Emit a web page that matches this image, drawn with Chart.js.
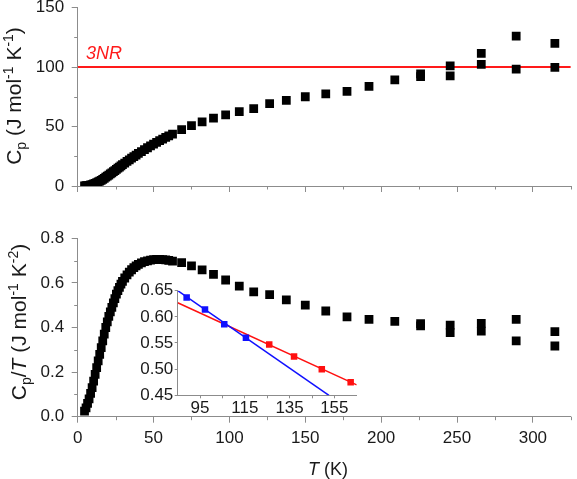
<!DOCTYPE html>
<html>
<head>
<meta charset="utf-8">
<script src="https://cdn.jsdelivr.net/npm/chart.js@4.4.1/dist/chart.umd.min.js"></script>
<style>
  body { margin: 0; background: #fff; }
  #wrap { position: relative; width: 577px; height: 479px; overflow: hidden; }
  .box { position: absolute; }
</style>
</head>
<body>
<div id="wrap">
  <div class="box" style="left:0;top:-20px;width:577px;height:224px"><canvas id="cpChart" width="577" height="224"></canvas></div>
  <div class="box" style="left:0;top:200px;width:577px;height:279px"><canvas id="cptChart" width="577" height="279"></canvas></div>
  <div class="box" style="left:100px;top:260px;width:280px;height:170px"><canvas id="insetChart" width="280" height="170"></canvas></div>
</div>
<script>
// temperatures (K)
const temps = [4.5, 5.5, 6.5, 7.5, 8.5, 9.5, 10.5, 11.5, 12.5, 13.5, 14.5, 15.5, 16.5, 17.5, 18.5, 19.5, 20.5, 21.5, 22.5, 23.5,
  24.5, 25.5, 26.5, 27.5, 28.5, 29.5, 31, 32.5, 34, 35.5, 37, 38.5, 40, 42, 44, 46, 48, 50, 52, 54, 56, 58, 60,
  62.5, 68.5, 75, 82, 89.5, 97.5, 106.5, 116, 126.5, 137.5, 150, 163.5, 177.5, 192, 209,
  226, 226, 245.5, 245.5, 266, 266, 289, 289, 314.5, 314.5];
// Cp (J mol-1 K-1)
const cp = [0.11, 0.22, 0.39, 0.60, 0.89, 1.24, 1.68, 2.19, 2.75, 3.38, 4.06, 4.81, 5.61, 6.48, 7.40, 8.29, 9.23, 10.11, 11.03, 11.99,
  12.99, 14.03, 14.97, 15.95, 16.96, 17.91, 19.28, 20.67, 22.03, 23.39, 24.72, 26.03, 27.32, 28.98, 30.58, 32.15, 33.70, 35.20, 36.66, 38.07, 39.42, 40.77, 42.06,
  43.63, 47.33, 50.70, 53.96, 57.10, 59.77, 62.41, 64.96, 69.20, 72.05, 75.00, 77.50, 79.52, 83.71, 89.24,
  94.24, 91.98, 100.90, 92.55, 111.45, 102.14, 126.0, 98.26, 119.82, 99.70];
// Cp/T (J mol-1 K-2)
const cpOverT = [0.025, 0.04, 0.06, 0.08, 0.105, 0.13, 0.16, 0.19, 0.22, 0.25, 0.28, 0.31, 0.34, 0.37, 0.40, 0.425, 0.45, 0.47, 0.49, 0.51,
  0.53, 0.55, 0.565, 0.58, 0.595, 0.607, 0.622, 0.636, 0.648, 0.659, 0.668, 0.676, 0.683, 0.690, 0.695, 0.699, 0.702, 0.704, 0.705, 0.705, 0.704, 0.703, 0.701,
  0.698, 0.691, 0.676, 0.658, 0.638, 0.613, 0.586, 0.560, 0.547, 0.524, 0.500, 0.474, 0.448, 0.436, 0.427,
  0.417, 0.407, 0.411, 0.377, 0.419, 0.384, 0.436, 0.340, 0.381, 0.317];
const threeNR = 100;

// inset
const insetBlueT = [89, 97.2, 105.8, 115.5];
const insetBlueY = [0.637, 0.614, 0.586, 0.560];
const insetRedT = [125.9, 137, 149.4, 162.3];
const insetRedY = [0.547, 0.524, 0.500, 0.475];
const blueFitT = [85, 152.6];
const blueFitY = [0.65, 0.45];
const redFitT = [85, 165];
const redFitY = [0.627, 0.470];

// ticks
const tTicks = [0, 50, 100, 150, 200, 250, 300];
const tMinor = [25, 75, 125, 175, 225, 275, 325];
const cpTicks = [0, 50, 100, 150];
const cpMinor = [25, 75, 125];
const cptTicks = [0, 0.2, 0.4, 0.6, 0.8];
const cptMinor = [0.1, 0.3, 0.5, 0.7];
const insetXTicks = [95, 115, 135, 155];
const insetXMinor = [105, 125, 145];
const insetYTicks = [0.45, 0.5, 0.55, 0.6, 0.65];

const FONT = "'Liberation Sans', Arial, sans-serif";
const AXIS = '#8c8c8c';
const TEXT = '#1a1a1a';

const pts = (xs, ys) => xs.map((x, i) => ({ x: x, y: ys[i] }));

function axis(min, max, ticks, fmt, o) {
  return {
    type: 'linear', min: min, max: max,
    afterBuildTicks: s => { s.ticks = ticks.map(v => ({ value: v })); },
    border: { color: AXIS, width: 1 },
    grid: { drawOnChartArea: false, color: AXIS, tickLength: o.tl, lineWidth: 1 },
    ticks: { display: o.labels !== false, font: { family: FONT, size: 17 }, color: TEXT,
      padding: o.pad, callback: fmt, maxRotation: 0, autoSkip: false },
    afterFit: s => { if (o.w != null) s.width = o.w; if (o.h != null) s.height = o.h; }
  };
}

// minor tick marks and rich text labels
const extras = {
  id: 'extras',
  afterDraw(chart, args, opts) {
    const ctx = chart.ctx, xs = chart.scales.x, ys = chart.scales.y;
    ctx.save();
    ctx.strokeStyle = AXIS;
    ctx.lineWidth = 1;
    ctx.beginPath();
    (opts.xMinor || []).forEach(v => {
      const px = Math.round(xs.getPixelForValue(v)) + 0.5;
      ctx.moveTo(px, xs.top); ctx.lineTo(px, xs.top + opts.minorLen);
    });
    (opts.yMinor || []).forEach(v => {
      const py = Math.round(ys.getPixelForValue(v)) + 0.5;
      ctx.moveTo(ys.right, py); ctx.lineTo(ys.right - opts.minorLen, py);
    });
    ctx.stroke();
    ctx.restore();
    (opts.texts || []).forEach(t => {
      const x = t.tx != null ? xs.getPixelForValue(t.tx) : t.x;
      const y = t.ty != null ? ys.getPixelForValue(t.ty) : t.y;
      richText(ctx, t.parts, x, y, t.angle || 0, t.align || 'left', t.color || TEXT);
    });
  }
};

function richText(ctx, parts, x, y, angle, align, color) {
  ctx.save();
  ctx.translate(x, y);
  ctx.rotate(angle);
  ctx.fillStyle = color;
  ctx.textBaseline = 'alphabetic';
  ctx.textAlign = 'left';
  const fnt = p => (p.italic ? 'italic ' : '') + p.size + 'px ' + FONT;
  let total = 0;
  parts.forEach(p => { ctx.font = fnt(p); p.w = ctx.measureText(p.t).width; total += p.w; });
  let cx = align === 'center' ? -total / 2 : 0;
  parts.forEach(p => { ctx.font = fnt(p); ctx.fillText(p.t, cx, p.dy || 0); cx += p.w; });
  ctx.restore();
}

const common = {
  responsive: false,
  animation: false,
  plugins: { legend: { display: false }, tooltip: { enabled: false } }
};

// top panel: Cp
new Chart(document.getElementById('cpChart'), {
  type: 'scatter',
  data: {
    datasets: [
      { data: pts(temps, cp), pointStyle: 'rect', pointRadius: 6.2, backgroundColor: '#000', borderWidth: 0, order: 1 },
      { data: [{ x: 0, y: threeNR }, { x: 325, y: threeNR }], showLine: true, borderColor: '#ff1a1a', borderWidth: 2,
        pointRadius: 0, order: 2 }
    ]
  },
  options: Object.assign({}, common, {
    layout: { padding: { top: 27.5, right: 1, bottom: 8, left: 0 } },
    scales: {
      x: axis(0, 325, tTicks, v => v, { tl: 6, pad: 5, h: 10, labels: false }),
      y: axis(0, 150, cpTicks, v => v, { tl: 6, pad: 7.5, w: 77.7 })
    },
    plugins: Object.assign({}, common.plugins, {
      extras: {
        xMinor: tMinor, yMinor: cpMinor, minorLen: 3.5,
        texts: [
          { x: 20.5, y: 116, angle: -Math.PI / 2, align: 'center', parts: [
            { t: 'C', size: 21 }, { t: 'p', size: 14, dy: 5 }, { t: ' (J mol', size: 21 }, { t: '-1', size: 14, dy: -8 },
            { t: ' K', size: 21 }, { t: '-1', size: 14, dy: -8 }, { t: ')', size: 21 }] },
          { tx: 5.5, ty: 106.5, color: '#ff1a1a', parts: [{ t: '3NR', size: 18, italic: true }] }
        ]
      }
    })
  }),
  plugins: [extras]
});

// bottom panel: Cp/T
new Chart(document.getElementById('cptChart'), {
  type: 'scatter',
  data: {
    datasets: [
      { data: pts(temps, cpOverT), pointStyle: 'rect', pointRadius: 6.2, backgroundColor: '#000', borderWidth: 0 }
    ]
  },
  options: Object.assign({}, common, {
    layout: { padding: { top: 38.3, right: 1, bottom: 0, left: 0 } },
    scales: {
      x: axis(0, 325, tTicks, v => v, { tl: 6, pad: 5, h: 62.3 }),
      y: axis(0, 0.8, cptTicks, v => v.toFixed(1), { tl: 6, pad: 7.5, w: 77.7 })
    },
    plugins: Object.assign({}, common.plugins, {
      extras: {
        xMinor: tMinor, yMinor: cptMinor, minorLen: 3.5,
        texts: [
          { x: 26, y: 122, angle: -Math.PI / 2, align: 'center', parts: [
            { t: 'C', size: 21 }, { t: 'p', size: 14, dy: 5 }, { t: '/', size: 21 }, { t: 'T', size: 21, italic: true },
            { t: ' (J mol', size: 21 }, { t: '-1', size: 14, dy: -8 },
            { t: ' K', size: 21 }, { t: '-2', size: 14, dy: -8 }, { t: ')', size: 21 }] },
          { x: 328, y: 275, align: 'center', parts: [{ t: 'T', size: 18, italic: true }, { t: ' (K)', size: 18 }] }
        ]
      }
    })
  }),
  plugins: [extras]
});

// inset
new Chart(document.getElementById('insetChart'), {
  type: 'scatter',
  data: {
    datasets: [
      { data: pts(blueFitT, blueFitY), showLine: true, borderColor: '#1010ff', borderWidth: 1.5, pointRadius: 0, order: 2 },
      { data: pts(redFitT, redFitY), showLine: true, borderColor: '#ff1010', borderWidth: 1.5, pointRadius: 0, order: 2 },
      { data: pts(insetBlueT, insetBlueY), pointStyle: 'rect', pointRadius: 4.6, backgroundColor: '#1010ff', borderWidth: 0, order: 1 },
      { data: pts(insetRedT, insetRedY), pointStyle: 'rect', pointRadius: 4.6, backgroundColor: '#ff1010', borderWidth: 0, order: 1 }
    ]
  },
  options: Object.assign({}, common, {
    layout: { padding: { top: 30.7, right: 23.3, bottom: 0, left: 0 } },
    scales: {
      x: axis(85, 165, insetXTicks, v => v, { tl: 3, pad: 0, h: 34.7 }),
      y: axis(0.45, 0.65, insetYTicks, v => v.toFixed(2), { tl: 3, pad: 1.4, w: 77.7 })
    },
    plugins: Object.assign({}, common.plugins, {
      extras: { xMinor: insetXMinor, yMinor: [], minorLen: 3 }
    })
  }),
  plugins: [extras]
});
</script>
</body>
</html>
